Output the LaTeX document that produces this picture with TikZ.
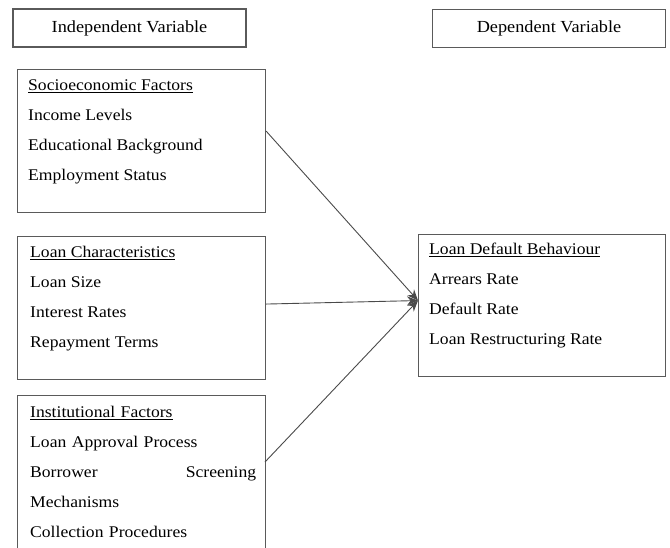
\documentclass[tikz,border=0pt]{standalone}
\usepackage{fontspec}
\setmainfont{Liberation Serif}[FakeStretch=1.08]
\usetikzlibrary{arrows.meta,positioning,calc}
\definecolor{frame}{HTML}{5A5A5A}
\definecolor{link}{HTML}{4A4A4A}
\tikzset{
  headbox/.style={draw=frame, line width=1.3pt, minimum width=233pt, minimum height=38pt, inner sep=0pt, font=\fontsize{16.9}{20}\selectfont},
  varbox/.style={draw=frame, line width=1.1pt, minimum width=248pt, anchor=north west, inner sep=0pt},
  vtext/.style={anchor=north west, align=left, inner sep=0pt, font=\fontsize{16.3}{30}\selectfont},
  linkarr/.style={-{Stealth[length=11pt, width=9pt]}, line width=0.9pt, link},
}

\begin{document}
\begin{tikzpicture}[x=1pt,y=-1pt]
\useasboundingbox (0,0) rectangle (670,547);
\clip (0,0) rectangle (670,547);

% ============ headings ================
\node[headbox] (indep) at (129.5,28) {Independent Variable};
\node[headbox] (dep) at (549,28.5) {Dependent Variable};

% ============ independent variables ================
\node[varbox, minimum height=143pt] (socio) at (17,69) {};
\node[vtext] (sociotxt) at (28,80) {\underline{Socioeconomic Factors}\\
  Income Levels\\ Educational Background\\ Employment Status};

\node[varbox, minimum height=143pt] (loanc) at (17,236) {};
\node[vtext] (loanctxt) at (30,246) {\underline{Loan Characteristics}\\
  Loan Size\\ Interest Rates\\ Repayment Terms};

\node[varbox, minimum height=170pt] (instit) at (17,395) {};
\node[vtext, text width=226pt] (instittxt) at (30,406) {\underline{Institutional Factors}\\
  Loan Approval Process\\ Borrower\hfill Screening\\ Mechanisms\\ Collection Procedures};

% ============ dependent variable ================
\node[varbox, minimum width=247pt, minimum height=142pt] (default) at (418,234) {};
\node[vtext] (defaulttxt) at (429,243) {\underline{Loan Default Behaviour}\\
  Arrears Rate\\ Default Rate\\ Loan Restructuring Rate};

% links
\coordinate (tip) at ([yshift=5pt]default.west);
\draw[linkarr] ([yshift=10pt]socio.east) -- (tip);
\draw[linkarr] ([yshift=4pt]loanc.east) -- (tip);
\draw[linkarr] (265,462) -- (tip);

\end{tikzpicture}
\end{document}
